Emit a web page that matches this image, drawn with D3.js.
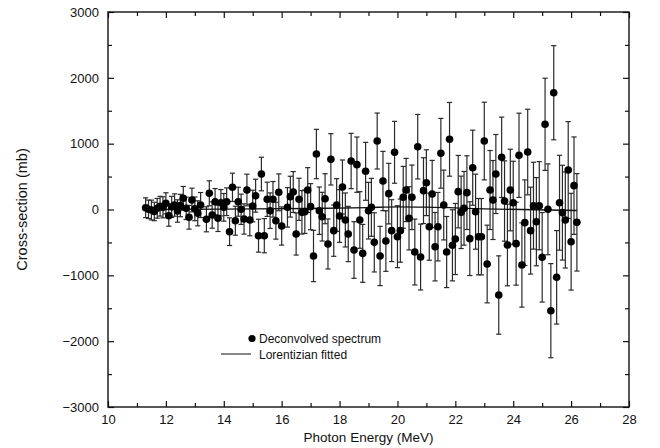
<!DOCTYPE html>
<html>
<head>
<meta charset="utf-8">
<script src="https://cdn.jsdelivr.net/npm/d3@7"></script>
<style>
  body { margin: 0; background: #fff; }
  svg { display: block; font-family: "Liberation Sans", Arial, Helvetica, sans-serif; }
</style>
</head>
<body>
<div id="chart"></div>
<script>
// Photon energy (MeV) of each deconvolved point
const energy = [
  11.3, 11.4, 11.5, 11.6, 11.7, 11.8, 11.9,
  12.0, 12.1, 12.2, 12.3, 12.4, 12.5, 12.6, 12.7, 12.8, 12.9,
  13.0, 13.1, 13.2, 13.4, 13.5, 13.6, 13.7, 13.8, 13.9,
  14.0, 14.1, 14.2, 14.3, 14.4, 14.5, 14.6, 14.7, 14.8, 14.9,
  15.0, 15.1, 15.2, 15.3, 15.4, 15.5, 15.6, 15.7, 15.8, 15.9,
  16.0, 16.2,
  16.3, 16.4, 16.5, 16.6, 16.7, 16.8, 16.9,
  17.0, 17.1, 17.2, 17.3, 17.4, 17.5, 17.6, 17.7, 17.8, 17.9,
  18.0, 18.1, 18.2, 18.3, 18.4, 18.5, 18.6, 18.7, 18.8, 18.9,
  19.0, 19.1, 19.2, 19.3, 19.4, 19.5, 19.6, 19.7, 19.8, 19.9,
  20.0, 20.1, 20.2, 20.3, 20.4, 20.5, 20.6, 20.7, 20.8, 20.9,
  21.0, 21.1, 21.2, 21.3, 21.4, 21.5, 21.6, 21.7, 21.8, 21.9,
  22.0, 22.1, 22.2, 22.3, 22.4, 22.5, 22.6, 22.7, 22.8, 22.9,
  23.0, 23.1, 23.2, 23.3, 23.4, 23.5, 23.6, 23.7, 23.8, 23.9,
  24.0, 24.1, 24.2, 24.3, 24.4, 24.5, 24.6, 24.7, 24.8, 24.9,
  25.0, 25.1, 25.2, 25.3, 25.4, 25.5, 25.6, 25.7, 25.8, 25.9,
  26.0, 26.1, 26.2
];

// cross-section (mb)
const crossSection = [
  27, 3, -8, -30, 18, 50, 33,
  94, -94, 40, 68, -23, 60, 170, 18, -118, 144,
  10, -58, 68, -149, 246, -84, 118, -134, 103,
  33, 118, -337, 337, -170, 118, 3, -144, 296, -159,
  53, 210, -398, 539, -398, 155, -18, 155, -170, 261,
  -251, 33,
  195, 266, -372, 155, -43, -33, 296,
  43, -706, 843, -18, -109, 164, -524, 762, -321, 68,
  -99, 342, -159, -372, 737, -615, 681, -159, -666, 580,
  -18, 33, -499, 1040, -706, 433, -479, 241, -321, 869,
  -413, -321, 185, 296, -134, 185, -646, 954, -722, 286,
  407, -261, 236, -565, -261, 854, 68, -646, 1066, -544,
  -448, 271, -43, 18, 256, -443, 635, -33, -413, -413,
  1040, -828, 296, 144, 539, -1299, 793, 129, -539, 296,
  103, -519, 823, -843, -200, 873, -321, 58, -185, 58,
  -726, 1294, 3, -1537, 1774, -1030, 103, -48, -159, 600,
  -489, 362, -195
];

// half-length of each error bar (mb)
const errorBar = [
  150, 140, 150, 140, 150, 150, 160,
  160, 160, 160, 170, 170, 170, 180, 170, 180, 180,
  180, 190, 190, 190, 190, 200, 200, 200, 200,
  210, 210, 210, 215, 220, 220, 230, 230, 240, 240,
  240, 250, 250, 255, 260, 260, 270, 270, 280, 280,
  290, 300,
  310, 310, 320, 320, 330, 330, 340,
  350, 390, 375, 360, 370, 380, 380, 390, 390, 400,
  400, 410, 410, 420, 420, 430, 420, 430, 440, 440,
  430, 440, 450, 425, 450, 450, 460, 460, 470, 470,
  470, 480, 470, 480, 480, 490, 500, 490, 500, 500,
  500, 510, 510, 520, 520, 530, 530, 540, 560, 540,
  540, 550, 550, 560, 560, 560, 570, 570, 580, 580,
  590, 590, 600, 600, 600, 595, 610, 610, 620, 620,
  630, 630, 640, 640, 650, 650, 660, 660, 670, 670,
  680, 700, 690, 715, 715, 710, 720, 720, 730, 735,
  735, 740, 740
];

// Lorentzian fit
const fitEnergy = [11.2, 14, 17, 19, 20, 21, 23, 26.2];
const fitValue = [0, 5, 15, 30, 40, 35, 10, -15];

const xMajor = [10, 12, 14, 16, 18, 20, 22, 24, 26, 28];
const xMinor = [11, 13, 15, 17, 19, 21, 23, 25, 27];
const yMajor = [-3000, -2000, -1000, 0, 1000, 2000, 3000];
const yMinor = [-2500, -1500, -500, 500, 1500, 2500];

const W = 660, H = 448;
const plotLeft = 108, plotRight = 629, plotTop = 12, plotBottom = 407;

const svg = d3.select("#chart").append("svg")
  .attr("width", W)
  .attr("height", H);

const x = d3.scaleLinear().domain([10, 28]).range([plotLeft, plotRight]);
const y = d3.scaleLinear().domain([-3000, 3000]).range([plotBottom, plotTop]);

const points = energy.map((e, i) => ({ e: e, v: crossSection[i], err: errorBar[i] }));

// axes: ticks point inward on all four sides
function styleAxis(g) {
  g.select(".domain").remove();
  g.selectAll(".tick line").attr("stroke", "#111").attr("stroke-width", 1.2);
  g.selectAll(".tick text")
    .attr("fill", "#111")
    .style("font-size", "13px");
}

svg.append("g")
  .attr("transform", `translate(0,${plotBottom})`)
  .call(d3.axisBottom(x).tickValues(xMajor).tickSize(-6).tickPadding(8).tickFormat(d3.format("d")))
  .call(styleAxis);
svg.append("g")
  .attr("transform", `translate(0,${plotBottom})`)
  .call(d3.axisBottom(x).tickValues(xMinor).tickSize(-4).tickFormat(""))
  .call(styleAxis);
svg.append("g")
  .attr("transform", `translate(0,${plotTop})`)
  .call(d3.axisTop(x).tickValues(xMajor).tickSize(-6).tickFormat(""))
  .call(styleAxis);
svg.append("g")
  .attr("transform", `translate(0,${plotTop})`)
  .call(d3.axisTop(x).tickValues(xMinor).tickSize(-4).tickFormat(""))
  .call(styleAxis);

svg.append("g")
  .attr("transform", `translate(${plotLeft},0)`)
  .call(d3.axisLeft(y).tickValues(yMajor).tickSize(-6).tickPadding(9).tickFormat(d3.format("d")))
  .call(styleAxis);
svg.append("g")
  .attr("transform", `translate(${plotLeft},0)`)
  .call(d3.axisLeft(y).tickValues(yMinor).tickSize(-4).tickFormat(""))
  .call(styleAxis);
svg.append("g")
  .attr("transform", `translate(${plotRight},0)`)
  .call(d3.axisRight(y).tickValues(yMajor).tickSize(-6).tickFormat(""))
  .call(styleAxis);
svg.append("g")
  .attr("transform", `translate(${plotRight},0)`)
  .call(d3.axisRight(y).tickValues(yMinor).tickSize(-4).tickFormat(""))
  .call(styleAxis);

// frame
svg.append("rect")
  .attr("x", plotLeft)
  .attr("y", plotTop)
  .attr("width", plotRight - plotLeft)
  .attr("height", plotBottom - plotTop)
  .attr("fill", "none")
  .attr("stroke", "#111")
  .attr("stroke-width", 1.4);

// axis titles
svg.append("text")
  .attr("x", (plotLeft + plotRight) / 2)
  .attr("y", 442)
  .attr("text-anchor", "middle")
  .style("font-size", "13.5px")
  .attr("fill", "#111")
  .text("Photon Energy (MeV)");

svg.append("text")
  .attr("transform", `translate(27,${(plotTop + plotBottom) / 2}) rotate(-90)`)
  .attr("text-anchor", "middle")
  .style("font-size", "14.5px")
  .attr("fill", "#111")
  .text("Cross-section (mb)");

// error bars
const bars = svg.append("g").attr("stroke", "#2a2a2a").attr("stroke-width", 1.2);
bars.selectAll("line.bar")
  .data(points)
  .join("line")
  .attr("class", "bar")
  .attr("x1", d => x(d.e)).attr("x2", d => x(d.e))
  .attr("y1", d => y(d.v - d.err)).attr("y2", d => y(d.v + d.err));

const cap = 2.6;
bars.selectAll("line.capTop")
  .data(points)
  .join("line")
  .attr("class", "capTop")
  .attr("x1", d => x(d.e) - cap).attr("x2", d => x(d.e) + cap)
  .attr("y1", d => y(d.v + d.err)).attr("y2", d => y(d.v + d.err));
bars.selectAll("line.capBot")
  .data(points)
  .join("line")
  .attr("class", "capBot")
  .attr("x1", d => x(d.e) - cap).attr("x2", d => x(d.e) + cap)
  .attr("y1", d => y(d.v - d.err)).attr("y2", d => y(d.v - d.err));

// fitted curve
const fit = fitEnergy.map((e, i) => [e, fitValue[i]]);
svg.append("path")
  .datum(fit)
  .attr("fill", "none")
  .attr("stroke", "#111")
  .attr("stroke-width", 1.3)
  .attr("d", d3.line().x(d => x(d[0])).y(d => y(d[1])).curve(d3.curveMonotoneX));

// points
svg.append("g")
  .selectAll("circle")
  .data(points)
  .join("circle")
  .attr("cx", d => x(d.e))
  .attr("cy", d => y(d.v))
  .attr("r", 3.8)
  .attr("fill", "#000");

// legend
const legend = svg.append("g").style("font-size", "12px").attr("fill", "#111");
legend.append("circle").attr("cx", 252).attr("cy", 338.5).attr("r", 3.6).attr("fill", "#000");
legend.append("text").attr("x", 259).attr("y", 343).text("Deconvolved spectrum");
legend.append("line")
  .attr("x1", 221).attr("x2", 251).attr("y1", 354).attr("y2", 354)
  .attr("stroke", "#111").attr("stroke-width", 1);
legend.append("text").attr("x", 259).attr("y", 358.5).text("Lorentizian fitted");
</script>
</body>
</html>
